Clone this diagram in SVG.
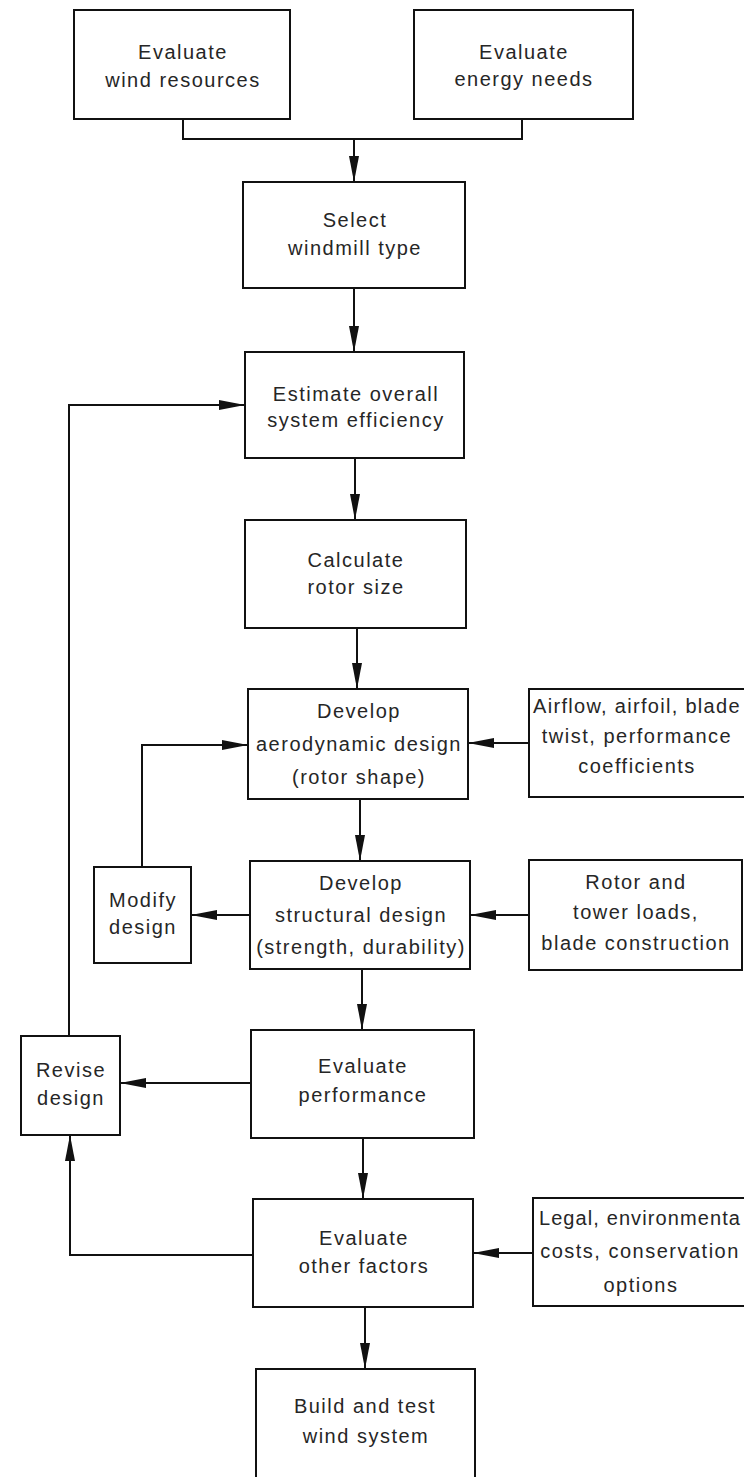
<svg xmlns="http://www.w3.org/2000/svg" width="744" height="1477" viewBox="0 0 744 1477">
<style>
.box{fill:#fff;stroke:#111;stroke-width:2}
.ln{fill:none;stroke:#111;stroke-width:2}
text{font-family:"Liberation Sans","DejaVu Sans",sans-serif;font-size:20px;letter-spacing:1.5px;fill:#262626;text-anchor:middle}
</style>
<defs>
<marker id="ah" markerUnits="userSpaceOnUse" markerWidth="28" markerHeight="12" refX="26" refY="5" orient="auto">
<path d="M0,0 L26,5 L0,10 Z" fill="#111"/>
</marker>
</defs>
<rect width="744" height="1477" fill="#fff"/>
<g id="connectors">
<path class="ln" d="M183,119 V139 H522 V119"/>
<path class="ln" d="M354,139 V182" marker-end="url(#ah)"/>
<path class="ln" d="M354,288 V352" marker-end="url(#ah)"/>
<path class="ln" d="M355,458 V520" marker-end="url(#ah)"/>
<path class="ln" d="M357,628 V689" marker-end="url(#ah)"/>
<path class="ln" d="M360,799 V861" marker-end="url(#ah)"/>
<path class="ln" d="M362,969 V1030" marker-end="url(#ah)"/>
<path class="ln" d="M363,1138 V1199" marker-end="url(#ah)"/>
<path class="ln" d="M365,1307 V1369" marker-end="url(#ah)"/>
<path class="ln" d="M529,743 H468" marker-end="url(#ah)"/>
<path class="ln" d="M529,915 H470" marker-end="url(#ah)"/>
<path class="ln" d="M533,1253 H473" marker-end="url(#ah)"/>
<path class="ln" d="M250,915 H191" marker-end="url(#ah)"/>
<path class="ln" d="M142,867 V745 H248" marker-end="url(#ah)"/>
<path class="ln" d="M251,1083 H120" marker-end="url(#ah)"/>
<path class="ln" d="M253,1255 H70 V1135" marker-end="url(#ah)"/>
<path class="ln" d="M69,1036 V405 H245" marker-end="url(#ah)"/>
</g>
<g id="wind-resources">
<rect class="box" x="74" y="10" width="216" height="109"/>
<text x="183" y="59">Evaluate</text>
<text x="183" y="87">wind resources</text>
</g>
<g id="energy-needs">
<rect class="box" x="414" y="10" width="219" height="109"/>
<text x="524" y="59">Evaluate</text>
<text x="524" y="86">energy needs</text>
</g>
<g id="select-type">
<rect class="box" x="243" y="182" width="222" height="106"/>
<text x="355" y="227">Select</text>
<text x="355" y="255">windmill type</text>
</g>
<g id="estimate-efficiency">
<rect class="box" x="245" y="352" width="219" height="106"/>
<text x="356" y="401">Estimate overall</text>
<text x="356" y="427">system efficiency</text>
</g>
<g id="rotor-size">
<rect class="box" x="245" y="520" width="221" height="108"/>
<text x="356" y="567">Calculate</text>
<text x="356" y="594">rotor size</text>
</g>
<g id="aerodynamic-design">
<rect class="box" x="248" y="689" width="220" height="110"/>
<text x="359" y="718">Develop</text>
<text x="359" y="751">aerodynamic design</text>
<text x="359" y="784">(rotor shape)</text>
</g>
<g id="airflow">
<rect class="box" x="529" y="689" width="222" height="108"/>
<text x="637" y="713" style="letter-spacing:1.3px">Airflow, airfoil, blade</text>
<text x="637" y="743">twist, performance</text>
<text x="637" y="773">coefficients</text>
</g>
<g id="structural-design">
<rect class="box" x="250" y="861" width="220" height="108"/>
<text x="361" y="890">Develop</text>
<text x="361" y="922">structural design</text>
<text x="361" y="954">(strength, durability)</text>
</g>
<g id="rotor-loads">
<rect class="box" x="529" y="860" width="213" height="110"/>
<text x="636" y="889">Rotor and</text>
<text x="636" y="919">tower loads,</text>
<text x="636" y="950">blade construction</text>
</g>
<g id="modify-design">
<rect class="box" x="94" y="867" width="97" height="96"/>
<text x="143" y="907">Modify</text>
<text x="143" y="934">design</text>
</g>
<g id="evaluate-performance">
<rect class="box" x="251" y="1030" width="223" height="108"/>
<text x="363" y="1073">Evaluate</text>
<text x="363" y="1102">performance</text>
</g>
<g id="revise-design">
<rect class="box" x="21" y="1036" width="99" height="99"/>
<text x="71" y="1077">Revise</text>
<text x="71" y="1105">design</text>
</g>
<g id="other-factors">
<rect class="box" x="253" y="1199" width="220" height="108"/>
<text x="364" y="1245">Evaluate</text>
<text x="364" y="1273">other factors</text>
</g>
<g id="legal">
<rect class="box" x="533" y="1198" width="218" height="108"/>
<text x="640" y="1225" style="letter-spacing:1.1px">Legal, environmenta</text>
<text x="640" y="1258">costs, conservation</text>
<text x="641" y="1292">options</text>
</g>
<g id="build-test">
<path class="box" d="M256,1482 V1369 H475 V1482"/>
<text x="365" y="1413">Build and test</text>
<text x="366" y="1443">wind system</text>
</g>
</svg>
